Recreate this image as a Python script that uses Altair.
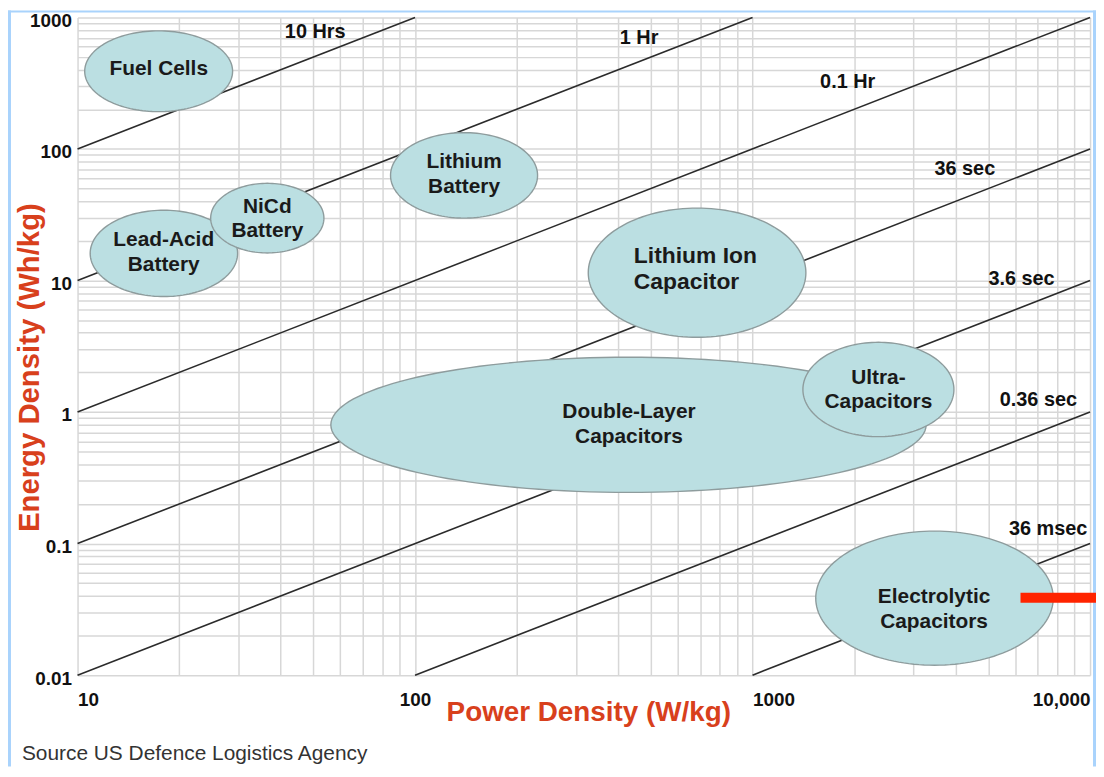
import math
import altair as alt
import pandas as pd

# ---------------- data ----------------
TECH_NAMES = ["Fuel Cells", "Lead-Acid\nBattery", "NiCd\nBattery", "Lithium\nBattery",
              "Lithium Ion\nCapacitor", "Double-Layer\nCapacitors", "Ultra-\nCapacitors",
              "Electrolytic\nCapacitors"]
# extent of each region (W/kg and Wh/kg)
P_MIN = [10.5, 10.9, 24.8, 84.6, 326, 56.3, 1410, 1539]
P_MAX = [28.8, 29.8, 53.7, 230.7, 1439, 3268, 3951, 7780]
E_MIN = [192, 7.55, 16.2, 29.8, 3.70, 0.245, 0.65, 0.0119]
E_MAX = [790, 34.2, 54.8, 133, 35.5, 2.61, 3.39, 0.1245]
# where each region's name sits
LABEL_P = [17.4, 18.0, 36.5, 139.7, 445, 430.5, 2360, 3450]
LABEL_E = [405, 16.2, 29.3, 64.1, 12.3, 0.80, 1.47, 0.0315]

# constant discharge-time lines (hours)
TIME_HOURS = [10, 1, 0.1, 0.01, 0.001, 0.0001, 0.00001]
TIME_LABELS = ["10 Hrs", "1 Hr", "0.1 Hr", "36 sec", "3.6 sec", "0.36 sec", "36 msec"]
TIME_LABEL_P = [50.6, 461, 1914, 4256, 6266, 7030, 7516]
TIME_LABEL_E = [771, 693, 323, 69.9, 10.3, 1.24, 0.129]

# red marker
MARKER_P = [6223, 10486]
MARKER_E = [0.0388]

X_DOMAIN = [10, 10000]
Y_DOMAIN = [0.01, 1000]
X_TICKS = [10, 100, 1000, 10000]
X_TICK_LABELS = ["10", "100", "1000", "10,000"]
Y_TICKS = [0.01, 0.1, 1, 10, 100, 1000]
Y_TICK_LABELS = ["0.01", "0.1", "1", "10", "100", "1000"]
MANTISSAS = [1, 2, 3, 4, 5, 6, 7, 8, 9]

SOURCE = "Source US Defence Logistics Agency"

# ---------------- build tables ----------------
grid_x = [round(m * d, 6) for d in X_TICKS[:-1] for m in MANTISSAS] + [X_TICKS[-1]]
grid_y = [round(m * d, 6) for d in Y_TICKS[:-1] for m in MANTISSAS] + [Y_TICKS[-1]]


def label_expr(ticks, labels):
    parts = " : ".join(f"datum.value == {t} ? '{l}'" for t, l in zip(ticks, labels))
    return parts + " : ''"


FONT = "Liberation Sans"
TITLE_COLOR = "#d8401c"

xscale = alt.Scale(type="log", domain=X_DOMAIN, nice=False)
yscale = alt.Scale(type="log", domain=Y_DOMAIN, nice=False)

x_axis = alt.Axis(
    values=grid_x, labelExpr=label_expr(X_TICKS, X_TICK_LABELS),
    grid=True, gridColor="#d7d7d7", gridWidth=1.5, domain=False, ticks=False,
    labelFont=FONT, labelFontSize=19, labelFontWeight="bold", labelColor="#111111",
    labelPadding=16, labelBaseline="top", labelFlush=False, labelOverlap=False,
    labelAlign={"expr": "datum.value == 100 ? 'center' : datum.value == 10000 ? 'right' : 'left'"},
    title="Power Density (W/kg)", titleFont=FONT, titleFontSize=28, titleFontWeight="bold",
    titleColor=TITLE_COLOR, titleX=514, titleY=38, titleBaseline="middle", titleAlign="center",
)
y_axis = alt.Axis(
    values=grid_y, labelExpr=label_expr(Y_TICKS, Y_TICK_LABELS),
    grid=True, gridColor="#d7d7d7", gridWidth=1.5, domain=False, ticks=False,
    labelFont=FONT, labelFontSize=19, labelFontWeight="bold", labelColor="#111111",
    labelPadding=6, labelOffset=3, labelAlign="right", labelBaseline="middle",
    labelFlush=False, labelOverlap=False,
    title="Energy Density (Wh/kg)", titleFont=FONT, titleFontSize=29.5, titleFontWeight="bold",
    titleColor=TITLE_COLOR, titleX=-48, titleY=352, titleAngle=270, titleBaseline="middle",
    titleAlign="center",
)


def X(field):
    return alt.X(field, type="quantitative", scale=xscale, axis=x_axis)


def Y(field):
    return alt.Y(field, type="quantitative", scale=yscale, axis=y_axis)


# diagonal lines E = P * t, clipped to the domain
line_rows = []
for t in TIME_HOURS:
    p0 = max(X_DOMAIN[0], Y_DOMAIN[0] / t)
    p1 = min(X_DOMAIN[1], Y_DOMAIN[1] / t)
    line_rows.append({"t": t, "P": p0, "E": p0 * t})
    line_rows.append({"t": t, "P": p1, "E": p1 * t})
lines_df = pd.DataFrame(line_rows)

time_lab_df = pd.DataFrame({"label": TIME_LABELS, "P": TIME_LABEL_P, "E": TIME_LABEL_E})

one = pd.DataFrame({"a": [0]})

layers = []

# blue frame strips
FRAME = "#a9d3fc"
for (x0, x1, y0, y1) in [(-70, -67, -7, 754), (-70, 1025, -7, -5), (1022, 1025, -7, 754)]:
    layers.append(alt.Chart(one).mark_rect(color=FRAME).encode(
        x=alt.value(x0), x2=alt.value(x1), y=alt.value(y0), y2=alt.value(y1)))

layers.append(alt.Chart(lines_df).mark_line(color="#2b2b2b", strokeWidth=1.6).encode(
    x=X("P"), y=Y("E"), detail="t:N"))

# ellipses (elliptical in log-log space)
N = 72
for name, p0, p1, e0, e1 in zip(TECH_NAMES, P_MIN, P_MAX, E_MIN, E_MAX):
    lcx = (math.log10(p0) + math.log10(p1)) / 2
    ax = (math.log10(p1) - math.log10(p0)) / 2
    lcy = (math.log10(e0) + math.log10(e1)) / 2
    ay = (math.log10(e1) - math.log10(e0)) / 2
    rows = []
    for i in range(N + 1):
        th = math.pi * i / N
        rows.append({
            "name": name,
            "P": 10 ** (lcx + ax * math.cos(th)),
            "Ehi": 10 ** (lcy + ay * math.sin(th)),
            "Elo": 10 ** (lcy - ay * math.sin(th)),
        })
    df = pd.DataFrame(rows)
    layers.append(alt.Chart(df).mark_area(
        fill="#bbdfe2", stroke="#8e9c9d", strokeWidth=1.4, opacity=1).encode(
        x=X("P"), y=Y("Ehi"), y2=alt.Y2("Elo")))

lab_df = pd.DataFrame({"name": TECH_NAMES, "P": LABEL_P, "E": LABEL_E})
LEFT_NAMES = ["Lithium Ion\nCapacitor"]
is_left = lab_df["name"].isin(LEFT_NAMES)
is_multi = lab_df["name"].str.contains("\n")
single = lab_df[~is_left & ~is_multi]
multi = lab_df[~is_left & is_multi]
left = lab_df[is_left]

LH = 25
layers.append(alt.Chart(single).mark_text(
    font=FONT, fontSize=21, fontWeight="bold", color="#1a1a1a", align="center",
    baseline="middle").encode(x=X("P"), y=Y("E"), text="name:N"))
layers.append(alt.Chart(multi).mark_text(
    font=FONT, fontSize=21, fontWeight="bold", color="#1a1a1a", align="center",
    baseline="middle", lineBreak="\n", lineHeight=LH, dy=-LH / 2).encode(
    x=X("P"), y=Y("E"), text="name:N"))
layers.append(alt.Chart(left).mark_text(
    font=FONT, fontSize=23, fontWeight="bold", color="#1a1a1a", align="left",
    baseline="middle", lineBreak="\n", lineHeight=26, dy=-13).encode(
    x=X("P"), y=Y("E"), text="name:N"))

layers.append(alt.Chart(time_lab_df).mark_text(
    font=FONT, fontSize=20, fontWeight="bold", color="#111111", align="center",
    baseline="middle").encode(x=X("P"), y=Y("E"), text="label:N"))

marker_df = pd.DataFrame({"P0": [MARKER_P[0]], "P1": [MARKER_P[1]], "E": MARKER_E})
layers.append(alt.Chart(marker_df).mark_rule(color="#ff2400", strokeWidth=10, strokeCap="butt").encode(
    x=X("P0"), x2="P1", y=Y("E")))

layers.append(alt.Chart(one).mark_text(
    font=FONT, fontSize=21, color="#333333", align="left", baseline="middle").encode(
    x=alt.value(-56), y=alt.value(741), text=alt.value(SOURCE)))

chart = alt.layer(*layers).properties(
    width=1019, height=662,
    autosize="none",
    padding={"left": 70, "top": 7, "right": 6, "bottom": 92},
    background="white",
).configure_view(stroke=None)

chart.save("out.html", embed_options={"renderer": "svg", "actions": False})
